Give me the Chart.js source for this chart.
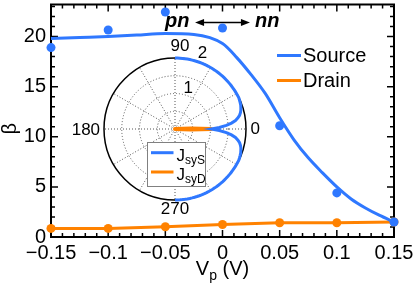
<!DOCTYPE html>
<html><head><meta charset="utf-8">
<script src="https://cdn.jsdelivr.net/npm/chart.js@4.4.1/dist/chart.umd.min.js"></script>
<style>
html,body{margin:0;padding:0;background:#fff;}
#wrap{position:relative;width:415px;height:288px;overflow:hidden;}
#main{position:absolute;left:0;top:0;}
#inset{position:absolute;left:69px;top:23px;}
</style></head><body>
<div id="wrap">
<canvas id="main" width="415" height="288"></canvas>
<canvas id="inset" width="213" height="213"></canvas>
</div>
<script>
// ---------- data ----------
const vp = [-0.15, -0.1, -0.05, 0, 0.05, 0.1, 0.15];
const sourceBeta = [18.9, 20.65, 22.45, 20.85, 11.1, 4.4, 1.5];
const drainBeta = [0.86, 0.86, 1.02, 1.25, 1.42, 1.42, 1.5];
const fitVp = [-0.15, -0.125, -0.1, -0.075, -0.05, -0.025, 0, 0.0125, 0.025, 0.0375, 0.05, 0.0625, 0.075, 0.0875, 0.1, 0.1125, 0.125, 0.1375, 0.15];
const fitBeta = [19.8, 19.9, 20.0, 20.15, 20.3, 20.2, 19.3, 17.9, 16.2, 14.3, 11.9, 9.7, 7.9, 6.4, 5.0, 3.8, 2.9, 2.15, 1.5];
const xTickValues = [-0.15, -0.1, -0.05, 0, 0.05, 0.1, 0.15];
const xTickLabels = ['\u22120.15', '\u22120.1', '\u22120.05', '0', '0.05', '0.1', '0.15'];
const yTickValues = [0, 5, 10, 15, 20];
const yTickLabels = ['0', '5', '10', '15', '20'];
const seriesNames = ['Source', 'Drain'];
// polar inset: r for angle 90, 88, ..., 0, ..., -90 (2 degree steps)
const sourcePolarR = [
 2,2,2,2,2,2,2,2,2,2, 2,2,2,2,2,2,2,2,2,2, 2,2,2,2,2,2,2,2,2,2, 2,2,2,
 1.99,1.98,1.97,1.95,1.93,1.9,1.86,1.8,1.72,1.6,1.45,1.25,
 1.02,
 1.25,1.45,1.6,1.72,1.8,1.86,1.9,1.93,1.95,1.97,1.98,1.99,
 2,2,2,2,2,2,2,2,2,2, 2,2,2,2,2,2,2,2,2,2, 2,2,2,2,2,2,2,2,2,2, 2,2,2
];
const drainPolarR = [
 0,0,0,0,0,0,0,0,0,0, 0,0,0,0,0,0,0,0,0,0, 0,0,0,0,0,0,0,0,0,0, 0,0,0,
 0,0,0,0,0,0,0,0,0,0,0,0.45,
 1.02,
 0.45,0,0,0,0,0,0,0,0,0,0,0,
 0,0,0,0,0,0,0,0,0,0, 0,0,0,0,0,0,0,0,0,0, 0,0,0,0,0,0,0,0,0,0, 0,0,0
];
const polarTickLabels = ['1', '2'];
const polarAngleLabels = ['0', '90', '180', '270'];
const insetNames = [['J', 'syS'], ['J', 'syD']];

// ---------- style ----------
const BLUE = '#2f78ff';
const ORANGE = '#ff8200';
const FONT = 'Liberation Sans, Arial, Helvetica, sans-serif';

// ---------- main chart plugins ----------
const framePlugin = {
  id: 'frame',
  beforeDatasetsDraw(chart) {
    const {ctx, chartArea: a, scales: {x, y}} = chart;
    ctx.save();
    ctx.strokeStyle = '#000';
    ctx.lineWidth = 1.5;
    ctx.beginPath();
    for (let k = -15; k <= 15; k++) {
      const px = x.getPixelForValue(k / 100);
      const len = (k % 5 === 0) ? 7 : 4;
      ctx.moveTo(px, a.bottom); ctx.lineTo(px, a.bottom - len);
      ctx.moveTo(px, a.top); ctx.lineTo(px, a.top + len);
    }
    for (let k = 0; k <= 23; k++) {
      const py = y.getPixelForValue(k);
      const len = (k % 5 === 0) ? 7 : 4;
      ctx.moveTo(a.left, py); ctx.lineTo(a.left + len, py);
      ctx.moveTo(a.right, py); ctx.lineTo(a.right - len, py);
    }
    ctx.stroke();
    ctx.lineWidth = 2;
    ctx.strokeRect(a.left, a.top, a.right - a.left, a.bottom - a.top);
    // annotation pn <-> nn
    const ay = y.getPixelForValue(21.4);
    const x1 = x.getPixelForValue(-0.024), x2 = x.getPixelForValue(0.024);
    ctx.lineWidth = 1.5;
    ctx.beginPath(); ctx.moveTo(x1 + 6, ay); ctx.lineTo(x2 - 6, ay); ctx.stroke();
    ctx.fillStyle = '#000';
    ctx.beginPath(); ctx.moveTo(x1, ay); ctx.lineTo(x1 + 9, ay - 3.5); ctx.lineTo(x1 + 9, ay + 3.5); ctx.closePath(); ctx.fill();
    ctx.beginPath(); ctx.moveTo(x2, ay); ctx.lineTo(x2 - 9, ay - 3.5); ctx.lineTo(x2 - 9, ay + 3.5); ctx.closePath(); ctx.fill();
    ctx.font = 'italic bold 20px ' + FONT;
    ctx.textBaseline = 'alphabetic';
    const by = y.getPixelForValue(21.0);
    ctx.textAlign = 'right'; ctx.fillText('pn', x.getPixelForValue(-0.029), by);
    ctx.textAlign = 'left'; ctx.fillText('nn', x.getPixelForValue(0.0285), by);
    ctx.restore();
  },
  afterDraw(chart) {
    const {ctx, chartArea: a, scales: {x}} = chart;
    ctx.save();
    ctx.fillStyle = '#000';
    // legend
    const colors = [BLUE, ORANGE];
    ctx.font = '20px ' + FONT;
    ctx.textBaseline = 'middle';
    ctx.textAlign = 'left';
    seriesNames.forEach((n, i) => {
      const ly = a.top + 51 + i * 25;
      ctx.strokeStyle = colors[i]; ctx.lineWidth = 3;
      ctx.beginPath(); ctx.moveTo(a.right - 117, ly); ctx.lineTo(a.right - 93, ly); ctx.stroke();
      ctx.fillText(n, a.right - 91, ly + 1);
    });
    // x title V_p (V)
    ctx.textBaseline = 'alphabetic';
    const f1 = '20px ' + FONT, f2 = '14px ' + FONT;
    ctx.font = f1; const wV = ctx.measureText('V').width; const wR = ctx.measureText(' (V)').width;
    ctx.font = f2; const wp = ctx.measureText('p').width;
    let sx = x.getPixelForValue(0) - (wV + wp + wR) / 2;
    const base = 275;
    ctx.font = f1; ctx.fillText('V', sx, base);
    ctx.font = f2; ctx.fillText('p', sx + wV, base + 5);
    ctx.font = f1; ctx.fillText(' (V)', sx + wV + wp, base);
    // y title beta
    ctx.save();
    ctx.translate(10, (a.top + a.bottom) / 2 + 8);
    ctx.rotate(-Math.PI / 2);
    ctx.textAlign = 'center'; ctx.textBaseline = 'middle';
    ctx.font = '20px ' + FONT;
    ctx.fillText('\u03b2', 0, 0);
    ctx.restore();
    ctx.restore();
  }
};

const pts = (xs, ys) => xs.map((v, i) => ({x: v, y: ys[i]}));

new Chart(document.getElementById('main'), {
  type: 'scatter',
  data: {
    datasets: [
      {label: 'Source fit', data: pts(fitVp, fitBeta), showLine: true, borderColor: BLUE, borderWidth: 3,
       pointRadius: 0, cubicInterpolationMode: 'monotone', clip: false},
      {label: seriesNames[0], data: pts(vp, sourceBeta), showLine: false, pointRadius: 4.5,
       backgroundColor: BLUE, pointBorderWidth: 0, borderColor: BLUE, clip: false},
      {label: seriesNames[1], data: pts(vp, drainBeta), showLine: true, borderColor: ORANGE, borderWidth: 3,
       pointRadius: 4.5, backgroundColor: ORANGE, pointBorderWidth: 0, clip: false}
    ]
  },
  options: {
    responsive: false, animation: false,
    layout: {padding: {left: 0, right: 21, top: 2, bottom: 0}},
    plugins: {legend: {display: false}, tooltip: {enabled: false}},
    scales: {
      x: {
        type: 'linear', min: -0.15, max: 0.15,
        afterBuildTicks: s => { s.ticks = xTickValues.map(v => ({value: v})); },
        afterFit: s => { s.height = 51; s.paddingLeft = 0; s.paddingRight = 0; s.paddingTop = 0; s.paddingBottom = 0; },
        ticks: {callback: (v, i) => xTickLabels[i], font: {size: 20, family: FONT}, color: '#000',
                padding: 4, maxRotation: 0, autoSkip: false},
        grid: {display: false, drawTicks: false}, border: {display: false}
      },
      y: {
        type: 'linear', min: 0, max: 23.2,
        afterBuildTicks: s => { s.ticks = yTickValues.map(v => ({value: v})); },
        afterFit: s => { s.width = 51; s.paddingLeft = 0; s.paddingRight = 0; s.paddingTop = 0; s.paddingBottom = 0; },
        ticks: {callback: (v, i) => yTickLabels[i], font: {size: 20, family: FONT}, color: '#000',
                padding: 5, autoSkip: false},
        grid: {display: false, drawTicks: false}, border: {display: false}
      }
    }
  },
  plugins: [framePlugin]
});

// ---------- polar inset ----------
const polarLabels = [];
for (let i = 0; i < 180; i++) { let a = 90 - 2 * i; if (a < 0) a += 360; polarLabels.push(a); }
const nulls = new Array(180 - sourcePolarR.length).fill(null);

const insetPlugin = {
  id: 'insetDeco',
  afterDraw(chart) {
    const {ctx} = chart;
    const r = chart.scales.r;
    const xC = r.xCenter, yC = r.yCenter;
    const idx = deg => { let i = (90 - deg) / 2; if (i < 0) i += 180; return i; };
    ctx.save();
    ctx.fillStyle = '#000';
    ctx.font = '17px ' + FONT;
    ctx.textAlign = 'center'; ctx.textBaseline = 'middle';
    // tick labels 1 and 2
    let p = r.getPointPositionForValue(idx(72), 1.2); ctx.fillText(polarTickLabels[0], p.x, p.y);
    p = r.getPointPositionForValue(idx(70), 2.27); ctx.fillText(polarTickLabels[1], p.x, p.y);
    // angle labels
    p = r.getPointPositionForValue(idx(0), 2.26); ctx.fillText(polarAngleLabels[0], p.x, p.y);
    p = r.getPointPositionForValue(idx(90), 2.32); ctx.fillText(polarAngleLabels[1], p.x + 5, p.y);
    p = r.getPointPositionForValue(idx(180), 2.51); ctx.fillText(polarAngleLabels[2], p.x, p.y + 1);
    p = r.getPointPositionForValue(idx(270), 2.27); ctx.fillText(polarAngleLabels[3], p.x, p.y);
    // inset legend
    ctx.fillStyle = '#fff';
    ctx.fillRect(xC - 27.5, yC + 13.5, 58, 44);
    ctx.strokeStyle = '#808080'; ctx.lineWidth = 1;
    ctx.strokeRect(xC - 27.5, yC + 13.5, 58, 44);
    const cols = [BLUE, ORANGE];
    insetNames.forEach((nm, i) => {
      const ly = yC + 23.7 + i * 19.3;
      ctx.strokeStyle = cols[i]; ctx.lineWidth = 3;
      ctx.beginPath(); ctx.moveTo(xC - 24, ly); ctx.lineTo(xC - 1.5, ly); ctx.stroke();
      ctx.fillStyle = '#000';
      ctx.textAlign = 'left'; ctx.textBaseline = 'alphabetic';
      ctx.font = '17px ' + FONT;
      const bx = xC + 1.5, bb = ly + 8.3;
      ctx.fillText(nm[0], bx, bb);
      const w = ctx.measureText(nm[0]).width;
      ctx.font = '12px ' + FONT;
      ctx.fillText(nm[1], bx + w, bb + 3);
    });
    ctx.restore();
  }
};

new Chart(document.getElementById('inset'), {
  type: 'radar',
  data: {
    labels: polarLabels,
    datasets: [
      {label: 'JsyS', data: sourcePolarR.concat(nulls), borderColor: BLUE, borderWidth: 3,
       pointRadius: 0, fill: false, spanGaps: false, clip: false, tension: 0},
      {label: 'JsyD', data: drainPolarR.concat(nulls), borderColor: ORANGE, borderWidth: 4,
       pointRadius: 0, fill: false, spanGaps: false, clip: false, tension: 0, borderCapStyle: 'round', borderJoinStyle: 'round'}
    ]
  },
  options: {
    responsive: false, animation: false,
    layout: {padding: 35},
    plugins: {legend: {display: false}, tooltip: {enabled: false}},
    scales: {
      r: {
        min: 0, max: 2, startAngle: 0,
        ticks: {display: false, stepSize: 0.5},
        pointLabels: {display: false},
        grid: {circular: true,
               color: c => (c.tick && c.tick.value === 2) ? '#000' : '#555',
               lineWidth: c => (c.tick && c.tick.value === 2) ? 1.5 : 1},
        border: {dash: c => (c.tick && c.tick.value === 2) ? [] : [1, 2]},
        angleLines: {display: true, color: '#555', borderDash: [1, 2],
                     lineWidth: c => (c.index % 15 === 0) ? 1 : 0}
      }
    }
  },
  plugins: [insetPlugin]
});
</script>
</body></html>
